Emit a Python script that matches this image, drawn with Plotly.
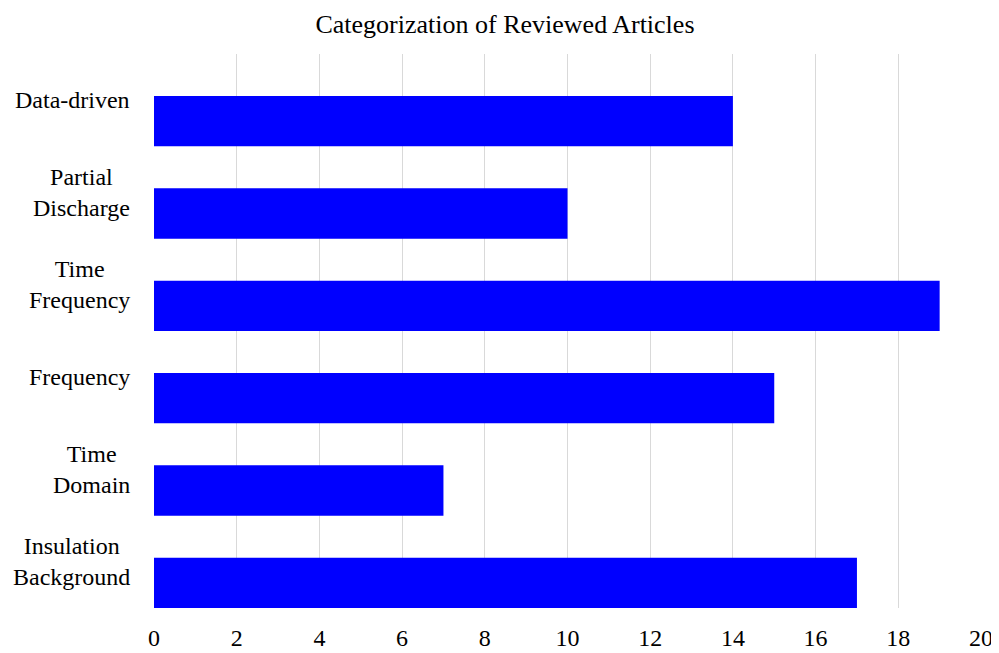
import plotly.graph_objects as go

categories = ["Data-driven", "Partial<br>Discharge", "Time<br>Frequency", "Frequency",
              "Time<br>Domain", "Insulation<br>Background"]
articles = [14, 10, 19, 15, 7, 17]
x_ticks = list(range(0, 21, 2))

font_family = "Palatino Linotype, Book Antiqua, Palatino, Liberation Serif, serif"

positions = list(range(len(categories)))

fig = go.Figure()
fig.add_trace(go.Bar(
    x=articles,
    y=positions,
    orientation="h",
    marker=dict(color="#0000ff", line=dict(width=0)),
    width=0.545,
    offset=-0.045,
    hoverinfo="x",
))

# category labels as annotations so multi-line labels are centred line by line
annotations = []
for pos, label in zip(positions, categories):
    annotations.append(dict(
        x=0, xref="paper", xanchor="right", xshift=-22,
        y=pos, yref="y", yanchor="middle", align="center",
        text=label, showarrow=False,
        font=dict(family=font_family, size=24, color="#000000"),
    ))

# the page body has an 8px margin, so the figure is a bit smaller than the window
fig.update_layout(
    width=991, height=645,
    margin=dict(l=146, r=18, t=46, b=45),
    paper_bgcolor="white", plot_bgcolor="white",
    title=dict(text="Categorization of Reviewed Articles", x=0.5015, xanchor="center",
               y=0.99, yanchor="top", pad=dict(t=0, b=0),
               font=dict(family=font_family, size=26, color="#000000")),
    font=dict(family=font_family, size=24, color="#000000"),
    showlegend=False,
    annotations=annotations,
    xaxis=dict(range=[0, 20], tickvals=x_ticks, showgrid=True, gridcolor="#d9d9d9",
               gridwidth=1, zeroline=False, showline=False, ticks="outside",
               ticklen=8, tickcolor="rgba(0,0,0,0)", automargin=False,
               tickfont=dict(family=font_family, size=24, color="#000000")),
    yaxis=dict(range=[5.5, -0.5], showticklabels=False, showgrid=False,
               zeroline=False, showline=False, automargin=False),
)

fig.write_html("out.html")
